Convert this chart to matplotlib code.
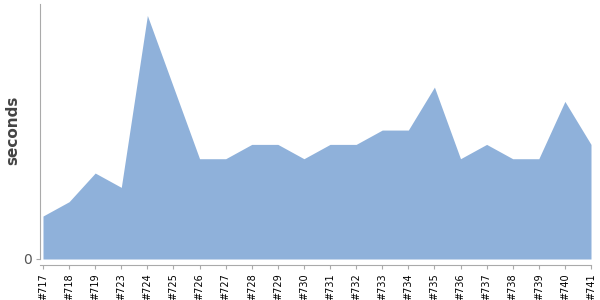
import matplotlib
matplotlib.use("Agg")
import matplotlib.pyplot as plt
import numpy as np

builds = ["#717", "#718", "#719", "#723", "#724", "#725", "#726", "#727", "#728",
          "#729", "#730", "#731", "#732", "#733", "#734", "#735", "#736", "#737",
          "#738", "#739", "#740", "#741"]
seconds = [3, 4, 6, 5, 17, 12, 7, 7, 8, 8, 7, 8, 8, 9, 9, 12, 7, 8, 7, 7, 11, 8]

fig = plt.figure(figsize=(6, 3), dpi=100)
ax = fig.add_axes([40/600, 41/300, 551/600, 255/300])

for s in ["top", "right"]:
    ax.spines[s].set_visible(False)
ax.spines["left"].set_color("#aaaaaa")
ax.spines["bottom"].set_color("#aaaaaa")
ax.spines["bottom"].set_position(("outward", 4))

x = np.arange(len(builds))
ax.fill_between(x, 0, seconds, color="#8fb1da", linewidth=0)
ax.set_xlim(-0.115, len(builds) - 1)
ax.set_ylim(0, 17.8)

ax.set_xticks(x)
ax.set_xticklabels(builds, rotation=90, fontsize=7, color="black")
ax.set_yticks([0])
ax.set_yticklabels(["0"], fontsize=10, color="#555555")
ax.set_ylabel("seconds", fontsize=11, fontweight="bold", color="#444444",
              va="center", ha="center")
ax.yaxis.set_label_coords(-27/551, 129/255)

ax.tick_params(axis="x", colors="#aaaaaa", labelcolor="black", length=3, pad=3, labelrotation=90)
ax.tick_params(axis="y", colors="#aaaaaa", labelcolor="#555555", length=3, pad=3)

fig.savefig("out.png", dpi=100)
